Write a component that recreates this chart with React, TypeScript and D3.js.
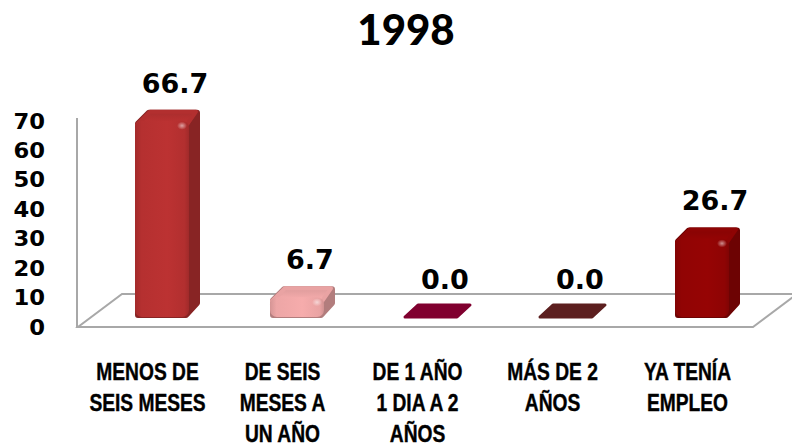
import React from 'react';
import * as d3 from 'd3';

const title = '1998';
const categories = ['MENOS DE SEIS MESES', 'DE SEIS MESES A UN AÑO', 'DE 1 AÑO 1 DIA A 2 AÑOS', 'MÁS DE 2 AÑOS', 'YA TENÍA EMPLEO'];
const categoryLines = [
  ['MENOS DE', 'SEIS MESES'],
  ['DE SEIS', 'MESES A', 'UN AÑO'],
  ['DE 1 AÑO', '1 DIA A 2', 'AÑOS'],
  ['MÁS DE 2', 'AÑOS'],
  ['YA TENÍA', 'EMPLEO'],
];
const values = [66.7, 6.7, 0.0, 0.0, 26.7];
const colors = ['#b22f2f', '#e9a3a3', '#80002f', '#5c1f1f', '#8e0404'];
const yTicks = [0, 10, 20, 30, 40, 50, 60, 70];

export default function App() {
  const W = 792, H = 448;
  const x = d3.scaleBand<string>().domain(categories).range([78, 753]).padding(0);
  const y = d3.scaleLinear().domain([0, 70]).range([327, 121]);
  const base = 317;
  const bw = 54, dx = 11, dy = -11;
  const fdx = 44, fdy = -33;
  const [fx0, fx1] = x.range();
  const fy = y(0);

  const floor = [
    [fx0, fy], [fx1, fy], [fx1 + fdx, fy + fdy], [fx0 + fdx, fy + fdy],
  ];

  return (
    <svg width={W} height={H} style={{ position: 'fixed', left: 0, top: 0, background: '#fff' }}>
      <defs>
        {colors.map((c, i) => {
          const col = d3.color(c)!;
          return (
            <React.Fragment key={i}>
              <linearGradient id={`front${i}`} x1="0" x2="1" y1="0" y2="0">
                <stop offset="0" stopColor={col.darker(0.25).formatHex()} />
                <stop offset="0.12" stopColor={col.brighter(0.05).formatHex()} />
                <stop offset="0.6" stopColor={col.brighter(0.15).formatHex()} />
                <stop offset="0.92" stopColor={col.formatHex()} />
                <stop offset="1" stopColor={col.darker(0.3).formatHex()} />
              </linearGradient>
              <linearGradient id={`top${i}`} x1="0" x2="0" y1="1" y2="0">
                <stop offset="0" stopColor={col.brighter(0.2).formatHex()} />
                <stop offset="1" stopColor={col.darker(0.15).formatHex()} />
              </linearGradient>
            </React.Fragment>
          );
        })}
        <radialGradient id="hl">
          <stop offset="0" stopColor="#fff" stopOpacity="0.55" />
          <stop offset="1" stopColor="#fff" stopOpacity="0" />
        </radialGradient>
      </defs>

      <text x={406} y={45} textAnchor="middle" fontFamily="Lato" fontWeight="900" fontSize={42}>{title}</text>

      <polygon points={floor.map(p => p.join(',')).join(' ')} fill="#fff" stroke="#a8a8a8" strokeWidth={2} />
      <line x1={77} x2={77} y1={y(0)} y2={y(70) - 3} stroke="#a8a8a8" strokeWidth={2} />

      {yTicks.map(t => (
        <text key={t} transform={`translate(45,${y(t)}) scale(1.08,1)`} dy="0.36em" textAnchor="end" fontFamily="DejaVu Sans" fontWeight="bold" fontSize={21}>{t}</text>
      ))}

      {categories.map((c, i) => {
        const v = values[i];
        const x0 = (x(c) as number) + 57;
        const h = y(0) - y(v);
        const top = base - h;
        const col = d3.color(colors[i])!;
        const side = col.darker(0.75).formatHex();
        const labelX = x0 + bw / 2 + dx + 2;
        const labelY = top + dy - 17;
        if (h < 1) {
          const pts = [[x0, base], [x0 + dx + 2, base + dy - 1], [x0 + bw + dx, base + dy - 1], [x0 + bw - 2, base]];
          return (
            <g key={c}>
              <polygon points={pts.map(p => p.join(',')).join(' ')} fill={colors[i]} stroke={colors[i]} strokeWidth={3} strokeLinejoin="round" />
              <text x={labelX} y={labelY} textAnchor="middle" fontFamily="DejaVu Sans" fontWeight="bold" fontSize={27}>{v.toFixed(1)}</text>
            </g>
          );
        }
        const sil = [[x0 + 3, base - 2], [x0 + 3, top + 3], [x0 + dx + 3, top + dy + 3], [x0 + bw + dx - 3, top + dy + 3], [x0 + bw + dx - 3, base + dy - 3], [x0 + bw - 3, base - 2]];
        const topFace = [[x0 + 2, top + 4], [x0 + dx + 4, top + dy + 2], [x0 + bw + dx - 4, top + dy + 2], [x0 + bw - 2, top + 4]];
        const r = Math.min(7, h / 2);
        return (
          <g key={c}>
            <polygon points={sil.map(p => p.join(',')).join(' ')} fill={side} stroke={side} strokeWidth={6} strokeLinejoin="round" />
            <polygon points={topFace.map(p => p.join(',')).join(' ')} fill={`url(#top${i})`} stroke={col.formatHex()} strokeWidth={4} strokeLinejoin="round" />
            <rect x={x0} y={top} width={bw} height={h} rx={r} ry={r} fill={`url(#front${i})`} />
            <ellipse cx={x0 + bw - 7} cy={top + 5} rx={5} ry={4} fill="url(#hl)" />
            <text x={labelX} y={labelY} textAnchor="middle" fontFamily="DejaVu Sans" fontWeight="bold" fontSize={27}>{v.toFixed(1)}</text>
          </g>
        );
      })}

      {categories.map((c, i) => {
        const cx = (x(c) as number) + x.bandwidth() / 2 + 2;
        return categoryLines[i].map((line, j) => (
          <text key={c + j} transform={`translate(${cx},${380 + j * 31}) scale(0.8,1)`} textAnchor="middle" fontFamily="Liberation Sans" fontWeight="bold" fontSize={24} stroke="#000" strokeWidth={0.4}>{line}</text>
        ));
      })}
    </svg>
  );
}
